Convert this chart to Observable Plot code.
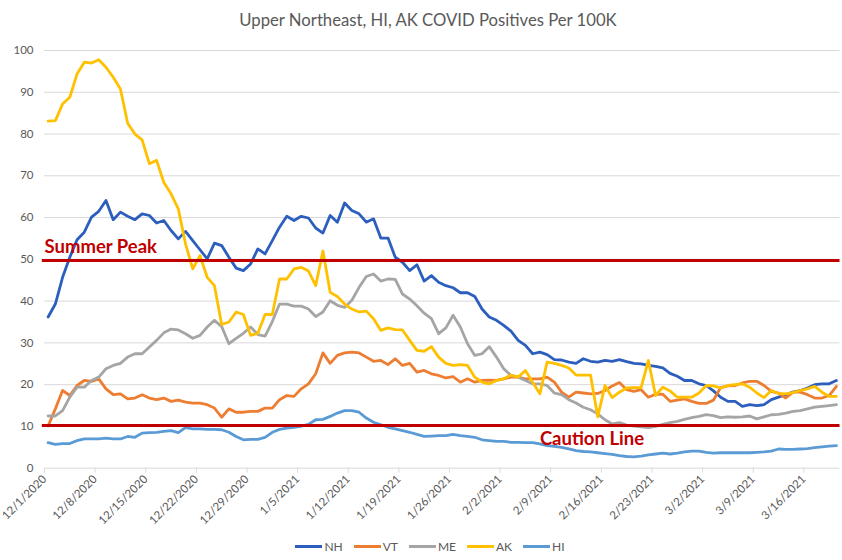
<!DOCTYPE html>
<html><head><meta charset="utf-8">
<script src="https://cdn.jsdelivr.net/npm/d3@7"></script>
<script src="https://cdn.jsdelivr.net/npm/@observablehq/plot@0.6"></script>
<style>
body{margin:0;background:#fff;font-family:Lato,"Open Sans",sans-serif;}
#wrap{width:842px;height:560px;position:relative;overflow:hidden;background:#fff;}
#title{height:36px;line-height:40px;text-align:center;font-size:16.7px;color:#595959;padding-left:14px;box-sizing:border-box;white-space:nowrap;}
#chart svg{display:block;}
#legend{position:absolute;left:0;top:536px;width:842px;height:20px;display:flex;justify-content:center;align-items:center;padding-left:18px;box-sizing:border-box;font-size:12px;color:#595959;}
#legend .item{display:flex;align-items:center;margin-right:11px;}
#legend .item:last-child{margin-right:0;}
#legend .sw{width:27px;height:3px;margin-right:2px;}
</style>
</head><body>
<div id="wrap">
  <div id="title">Upper Northeast, HI, AK COVID Positives Per 100K</div>
  <div id="chart"></div>
  <div id="legend"></div>
</div>
<script>
// Daily values per 100K, one per day from 12/1/2020 (index 0) to 3/20/2021 (index 109)
const NH = [36.2,39.3,45.7,50.5,54.7,56.5,60.1,61.5,64.1,59.5,61.3,60.3,59.5,60.9,60.5,58.7,59.3,56.9,54.9,56.7,
  54.5,52.3,50.1,53.9,53.3,50.5,47.9,47.3,48.9,52.5,51.3,54.5,57.7,60.3,59.3,60.3,59.9,57.5,56.3,60.5,
  58.9,63.5,61.7,60.9,58.9,59.7,55.1,55.1,50.5,49.3,47.3,48.7,44.8,46.1,44.5,43.7,43.2,42,42,41.1,
  38.1,36.2,35.4,34.2,32.8,30.6,29.4,27.4,27.8,27.2,26,25.9,25.4,25.1,26.2,25.6,25.4,25.8,25.6,26,
  25.5,25.1,25,24.6,24.4,24,22.7,22,21,21,20.2,19.8,18.5,17,16,16,14.8,15.2,15,15.2,
  16.4,17,17.6,18.2,18.6,19.2,20,20.2,20.2,21];
const VT = [10.1,14.2,18.6,17.4,19.8,21,20.8,21.4,19,17.6,17.8,16.6,16.8,17.6,16.8,16.4,16.8,16,16.3,15.8,
  15.6,15.6,15.2,14.4,12.2,14.2,13.4,13.4,13.6,13.6,14.4,14.4,16.4,17.4,17.2,19,20.2,22.6,27.6,25.1,
  27,27.6,27.8,27.6,26.6,25.6,25.8,24.8,26.2,24.6,25.1,23,23.4,22.6,22.2,21.6,21.9,20.6,21.4,20.6,
  21,21.1,21,21.4,21.8,21.8,21.4,21.4,21.4,21.8,20.6,18.2,17,18.2,18,17.8,17.9,18.6,19.7,20.5,
  18.8,18.4,18.8,17,17.7,17.7,16,16.3,16.6,16,15.5,15.5,16.3,19.3,19.7,19.8,20.4,20.8,20.8,19.8,
  18.4,18,16.8,18.2,18.2,17.6,16.8,16.8,17.4,19.6];
const ME = [12.5,12.5,13.8,17,19.4,19.4,21,21.8,23.8,24.6,25.1,26.6,27.4,27.4,29,30.6,32.4,33.3,33.1,32.2,
  31.1,31.8,33.8,35.4,33.9,29.8,31.1,32.3,33.8,32,31.6,35.1,39.3,39.3,38.8,38.8,38.1,36.3,37.4,40.1,
  39,38.5,40.2,43.3,45.9,46.5,44.8,45.3,45.2,41.7,40.5,38.9,37.1,35.8,32.2,33.6,36.6,33.8,29.8,27,
  27.4,29.1,26.6,23.8,22.2,21.8,21,20.2,20.2,19.8,18,17.6,16.4,15.6,14.6,14,13,11.6,10.6,10.9,
  10.3,10.1,9.9,9.7,10,10.5,10.9,11.2,11.7,12.1,12.4,12.8,12.6,12.1,12.3,12.2,12.3,12.5,11.8,12.3,
  12.8,12.9,13.2,13.6,13.8,14.2,14.6,14.8,15,15.2];
const AK = [83.1,83.2,87.2,88.8,94.4,97.2,97,97.8,96,93.6,90.8,82.6,80,78.6,72.9,73.7,68.4,65.7,62.1,53.7,
  47.7,50.9,45.7,43.7,34.4,35,37.4,36.8,31.8,32.3,36.8,36.8,45.3,45.3,47.7,48.1,47.2,43.7,52,42.1,
  41.1,39.3,38.1,37.4,37.6,35.8,33,33.6,33.2,33.1,30.6,28.2,28,29.1,26.6,25.1,24.6,24.8,24.6,21.8,
  20.6,20.2,21,21.4,22.3,21.8,23.4,20.6,17.8,25.4,25.1,24.6,24,22.3,22.3,22.3,12.3,19.8,16.9,18.2,
  19.2,19.3,19.3,25.8,17.4,19.4,18.5,17,17,17,18,19.8,19.7,19.2,19.8,20,20.2,19.4,18,16.9,
  18.6,17.9,17.8,18.1,18.6,19,19.6,18.2,17.2,17.2];
const HI = [6.1,5.7,5.9,5.9,6.6,7,7,7,7.2,7,7,7.6,7.4,8.4,8.5,8.6,8.8,9,8.5,9.7,
  9.4,9.4,9.3,9.3,9.2,8.6,7.6,6.8,6.9,6.9,7.4,8.6,9.3,9.6,9.8,10.1,10.5,11.6,11.7,12.4,
  13.2,13.8,13.8,13.4,12,11,10.4,9.8,9.4,9,8.6,8.1,7.6,7.7,7.8,7.8,8.1,7.8,7.6,7.4,
  6.8,6.6,6.4,6.4,6.2,6.2,6.1,6.1,5.8,5.4,5.2,5,4.6,4.2,4,3.9,3.7,3.5,3.3,3,
  2.8,2.7,2.9,3.2,3.4,3.6,3.4,3.6,3.9,4.1,4.1,3.8,3.6,3.7,3.7,3.7,3.7,3.7,3.8,3.9,
  4.1,4.6,4.5,4.5,4.6,4.7,4.9,5.1,5.3,5.4];

const seriesNames = ["NH","VT","ME","AK","HI"];
const seriesColors = ["#2C5EBE","#ED7D31","#A5A5A5","#FFC000","#5B9BD5"];
const seriesValues = [NH, VT, ME, AK, HI];

const tickLabels = ["12/1/2020","12/8/2020","12/15/2020","12/22/2020","12/29/2020","1/5/2021","1/12/2021",
  "1/19/2021","1/26/2021","2/2/2021","2/9/2021","2/16/2021","2/23/2021","3/2/2021","3/9/2021","3/16/2021"];
const tickDayIndex = [0,7,14,21,28,35,42,49,56,63,70,77,84,91,98,105];
const yTicks = [0,10,20,30,40,50,60,70,80,90,100];

const thresholdLabels = ["Summer Peak","Caution Line"];
const thresholdValues = [49.7, 10.2];
const thresholdLabelDay = [-0.5, 68];
const thresholdLabelShift = [-14, 13];

const nDays = NH.length;
const annotations = thresholdLabels.map((t,i)=>({label:t, y:thresholdValues[i], x:thresholdLabelDay[i], dy:thresholdLabelShift[i]}));

const lineMarks = seriesNames.map((name, k) =>
  Plot.line(seriesValues[k], {x: (d,i) => i, y: d => d, stroke: seriesColors[k], strokeWidth: 2.8, strokeLinejoin: "round", strokeLinecap: "round"})
);

const chart = Plot.plot({
  width: 842,
  height: 490,
  marginTop: 14,
  marginBottom: 58.3,
  marginLeft: 44,
  marginRight: 2.5,
  style: {fontFamily: "Lato, 'Open Sans', sans-serif", fontSize: "11.5px", color: "#595959", background: "#fff"},
  x: {domain: [-0.5, nDays - 0.5]},
  y: {domain: [0, 100]},
  marks: [
    Plot.gridY(yTicks, {stroke: "#D9D9D9", strokeOpacity: 1, strokeWidth: 1}),
    Plot.axisY(yTicks, {tickSize: 0, tickPadding: 11, fill: "#595959", label: null}),
    Plot.axisX(tickDayIndex.map(d => d - 0.5), {tickSize: 5, tickPadding: 4, tickRotate: -45, stroke: "#D9D9D9", fill: "#595959", label: null,
      tickFormat: d => tickLabels[tickDayIndex.indexOf(Math.round(d + 0.5))]}),
    ...lineMarks,
    Plot.ruleY(thresholdValues, {stroke: "#C00000", strokeWidth: 3, x1: -0.8, x2: nDays - 0.5}),
    Plot.text(annotations.filter(a => a.dy < 0), {x: "x", y: "y", text: "label", dy: -14, textAnchor: "start", fill: "#C00000", fontWeight: "bold", fontSize: 18.5}),
    Plot.text(annotations.filter(a => a.dy > 0), {x: "x", y: "y", text: "label", dy: 13, textAnchor: "start", fill: "#C00000", fontWeight: "bold", fontSize: 18.5})
  ]
});
document.getElementById("chart").appendChild(chart);

const legend = document.getElementById("legend");
seriesNames.forEach((n, k) => {
  const item = document.createElement("div");
  item.className = "item";
  const sw = document.createElement("span");
  sw.className = "sw";
  sw.style.background = seriesColors[k];
  const lab = document.createElement("span");
  lab.textContent = n;
  item.appendChild(sw); item.appendChild(lab);
  legend.appendChild(item);
});
</script>
</body></html>
